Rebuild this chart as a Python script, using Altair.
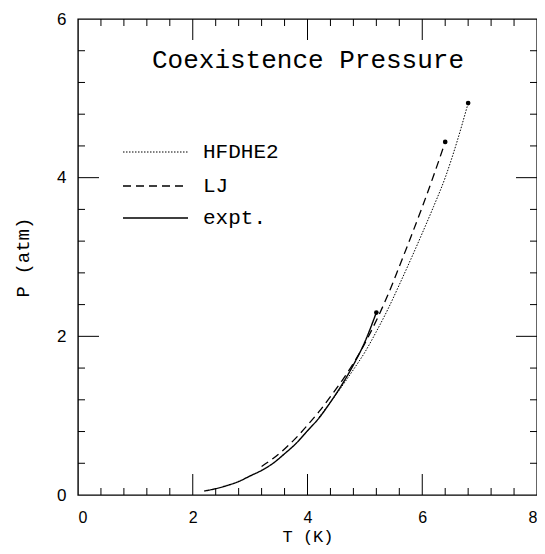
import altair as alt
import pandas as pd

# ---- data ----
expt_T = [2.2, 2.4, 2.6, 2.8, 3.0, 3.2, 3.4, 3.6, 3.8, 4.0, 4.2, 4.4, 4.6, 4.8, 5.0, 5.2]
expt_P = [0.05, 0.08, 0.12, 0.17, 0.24, 0.31, 0.40, 0.52, 0.65, 0.81, 0.97, 1.17, 1.39, 1.64, 1.93, 2.30]
lj_T = [3.2, 3.4, 3.6, 3.8, 4.0, 4.2, 4.4, 4.6, 4.8, 5.0, 5.2, 5.4, 5.6, 5.8, 6.0, 6.2, 6.4]
lj_P = [0.36, 0.46, 0.58, 0.72, 0.88, 1.05, 1.24, 1.44, 1.66, 1.91, 2.20, 2.52, 2.88, 3.25, 3.63, 4.03, 4.45]
hf_T = [4.2, 4.4, 4.6, 4.8, 5.0, 5.2, 5.4, 5.6, 5.8, 6.0, 6.2, 6.4, 6.6, 6.8]
hf_P = [0.98, 1.17, 1.37, 1.58, 1.80, 2.06, 2.34, 2.65, 2.97, 3.30, 3.64, 4.00, 4.44, 4.94]

series_names = ["HFDHE2", "LJ", "expt."]
title_text = "Coexistence Pressure"
x_title = "T (K)"
y_title = "P (atm)"

x_labels = [0, 2, 4, 6, 8]
y_labels = [0, 2, 4, 6]
x_major = [2, 4, 6]
x_minor = [0.4, 0.8, 1.2, 1.6, 2.4, 2.8, 3.2, 3.6, 4.4, 4.8, 5.2, 5.6, 6.4, 6.8, 7.2, 7.6]
y_major = [2, 4]
y_minor = [0.4, 0.8, 1.2, 1.6, 2.4, 2.8, 3.2, 3.6, 4.4, 4.8, 5.2, 5.6]

W, H = 459, 476
MAJ, MIN = 21, 7

xs = alt.Scale(domain=[0, 8], nice=False, zero=False)
ys = alt.Scale(domain=[0, 6], nice=False, zero=False)

x_axis = alt.Axis(values=x_labels, ticks=False, domain=False, grid=False,
                  labelFont="Liberation Sans", labelFontSize=16, labelPadding=14,
                  labelColor="black", title=x_title, titleFont="Liberation Mono",
                  titleFontSize=17, titleFontWeight="normal", titleColor="black",
                  titleBaseline="alphabetic", titleY=46, labelFlush=True)
y_axis = alt.Axis(values=y_labels, ticks=False, domain=False, grid=False,
                  labelFont="Liberation Sans", labelFontSize=17, labelPadding=12,
                  labelColor="black", title=y_title, titleFont="Liberation Mono",
                  titleFontSize=19, titleFontWeight="normal", titleColor="black",
                  titlePadding=24, labelFlush=False)

X = lambda f: alt.X(f, scale=xs, axis=x_axis)
Y = lambda f: alt.Y(f, scale=ys, axis=y_axis)

def line_layer(T, P, dash, width):
    df = pd.DataFrame({"T": T, "P": P})
    return alt.Chart(df).mark_line(color="black", strokeDash=dash, strokeWidth=width,
                                   interpolate="monotone").encode(x=X("T:Q"), y=Y("P:Q"))

expt = line_layer(expt_T, expt_P, [1, 0], 1.4)
lj = line_layer(lj_T, lj_P, [8, 5], 1.3)
hf = line_layer(hf_T, hf_P, [1.5, 1.5], 1.0)

ends = pd.DataFrame({"T": [hf_T[-1], lj_T[-1], expt_T[-1]],
                     "P": [hf_P[-1], lj_P[-1], expt_P[-1]]})
dots = alt.Chart(ends).mark_circle(color="black", size=22, opacity=1).encode(
    x=X("T:Q"), y=Y("P:Q"))

def xticks(vals, L):
    df = pd.DataFrame({"v": vals})
    base = alt.Chart(df).mark_rule(color="black", strokeWidth=1)
    b = base.encode(x=X("v:Q"), y=alt.value(H), y2=alt.value(H - L))
    t = base.encode(x=X("v:Q"), y=alt.value(0), y2=alt.value(L))
    return [b, t]

def yticks(vals, L):
    df = pd.DataFrame({"v": vals})
    base = alt.Chart(df).mark_rule(color="black", strokeWidth=1)
    l = base.encode(y=Y("v:Q"), x=alt.value(0), x2=alt.value(L))
    r = base.encode(y=Y("v:Q"), x=alt.value(W), x2=alt.value(W - L))
    return [l, r]

tick_layers = xticks(x_major, MAJ) + xticks(x_minor, MIN) + yticks(y_major, MAJ) + yticks(y_minor, MIN)

title = alt.Chart(pd.DataFrame({"t": [title_text]})).mark_text(
    font="Liberation Mono", fontSize=26, align="center", baseline="alphabetic", color="black"
).encode(text="t:N", x=alt.value(230), y=alt.value(49))

legend_layers = []
leg_y = [133, 167, 199]
leg_dash = [[1.5, 1.5], [8, 5], [1, 0]]
leg_w = [1.0, 1.3, 1.4]
for name, yy, d, w in zip(series_names, leg_y, leg_dash, leg_w):
    df = pd.DataFrame({"name": [name]})
    legend_layers.append(alt.Chart(df).mark_rule(color="black", strokeDash=d, strokeWidth=w).encode(
        x=alt.value(45), x2=alt.value(110), y=alt.value(yy)))
    legend_layers.append(alt.Chart(df).mark_text(
        font="Liberation Mono", fontSize=21, align="left", baseline="middle", color="black"
    ).encode(text="name:N", x=alt.value(125), y=alt.value(yy)))

chart = alt.layer(expt, lj, hf, dots, *tick_layers, title, *legend_layers).properties(
    width=W, height=H,
    background="white",
    padding={"left": 70, "top": 11, "right": 0, "bottom": 51},
    autosize=alt.AutoSizeParams(type="none"),
).configure_view(stroke="black", strokeWidth=1.4)

chart.save("out.html", embed_options={"renderer": "svg", "actions": False})
